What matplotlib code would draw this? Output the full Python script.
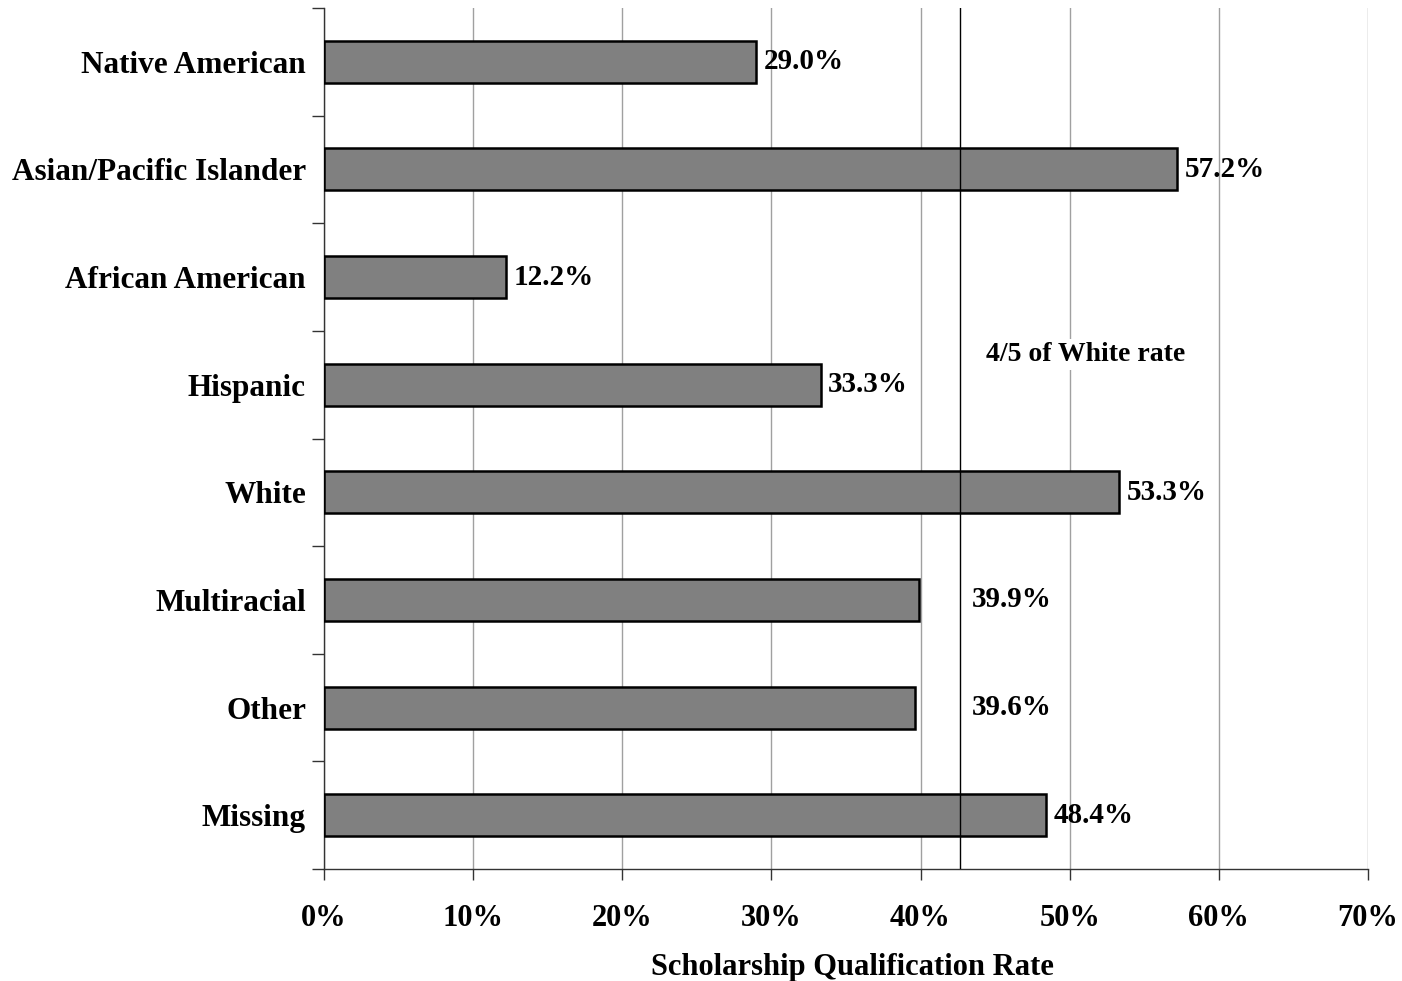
import numpy as np
import matplotlib
matplotlib.use('Agg')
import matplotlib.pyplot as plt

groups = ['Native American', 'Asian/Pacific Islander', 'African American', 'Hispanic',
          'White', 'Multiracial', 'Other', 'Missing']
rates = [29.0, 57.2, 12.2, 33.3, 53.3, 39.9, 39.6, 48.4]
x_ticks = [0, 10, 20, 30, 40, 50, 60, 70]

plt.rcParams['font.family'] = ['Liberation Serif', 'DejaVu Serif']
plt.rcParams['font.weight'] = 'bold'

# four-fifths rule threshold
white_rate = rates[groups.index('White')]
cutoff = white_rate * 4 / 5

fig = plt.figure(figsize=(14.02, 9.81), dpi=100)
ax = fig.add_axes([0.2311, 0.1142, 0.7446, 0.8776])

y = np.arange(len(groups))
ax.barh(y, rates, height=0.39, color='#808080', edgecolor='black', linewidth=1.8, zorder=3)
ax.axvline(cutoff, color='black', linewidth=1.0, zorder=4)

for yi, v in zip(y, rates):
    if cutoff - 5 < v < cutoff:
        xpos = cutoff + 0.8
    else:
        xpos = v + 0.5
    ax.text(xpos, yi, f'{v:.1f}%', va='center', ha='left', fontsize=21,
            fontweight='bold', zorder=5)

ax.text(51.1, 2.72, '4/5 of White rate', ha='center', va='center', fontsize=20,
        fontweight='bold', zorder=5,
        bbox=dict(facecolor='white', edgecolor='none', pad=2))

ax.set_xlim(0, 70)
ax.set_ylim(len(groups) - 0.5, -0.5)
ax.set_xticks(x_ticks)
ax.set_xticklabels([f'{t}%' for t in x_ticks], fontsize=22, fontweight='bold')
ax.xaxis.grid(True, color='#a0a0a0', linewidth=1.0, zorder=0)

ax.set_yticks(np.arange(len(groups) + 1) - 0.5)
ax.set_yticklabels([])
ax.set_yticks(y, minor=True)
ax.set_yticklabels(groups, minor=True, fontsize=22.5, fontweight='bold')
ax.tick_params(axis='y', which='minor', length=0, pad=13)
ax.tick_params(axis='y', which='major', length=9, width=1.0, color='#333333', direction='out')
ax.tick_params(axis='x', length=8, width=1.0, color='#333333', direction='out', pad=17)

for side in ['top', 'right']:
    ax.spines[side].set_visible(False)
for side in ['left', 'bottom']:
    ax.spines[side].set_color('#333333')
    ax.spines[side].set_linewidth(1.0)

ax.set_xlabel('Scholarship Qualification Rate', fontsize=22, fontweight='bold', va='center')
ax.xaxis.set_label_coords(0.506, -0.114)

fig.savefig('out.png', dpi=100)
